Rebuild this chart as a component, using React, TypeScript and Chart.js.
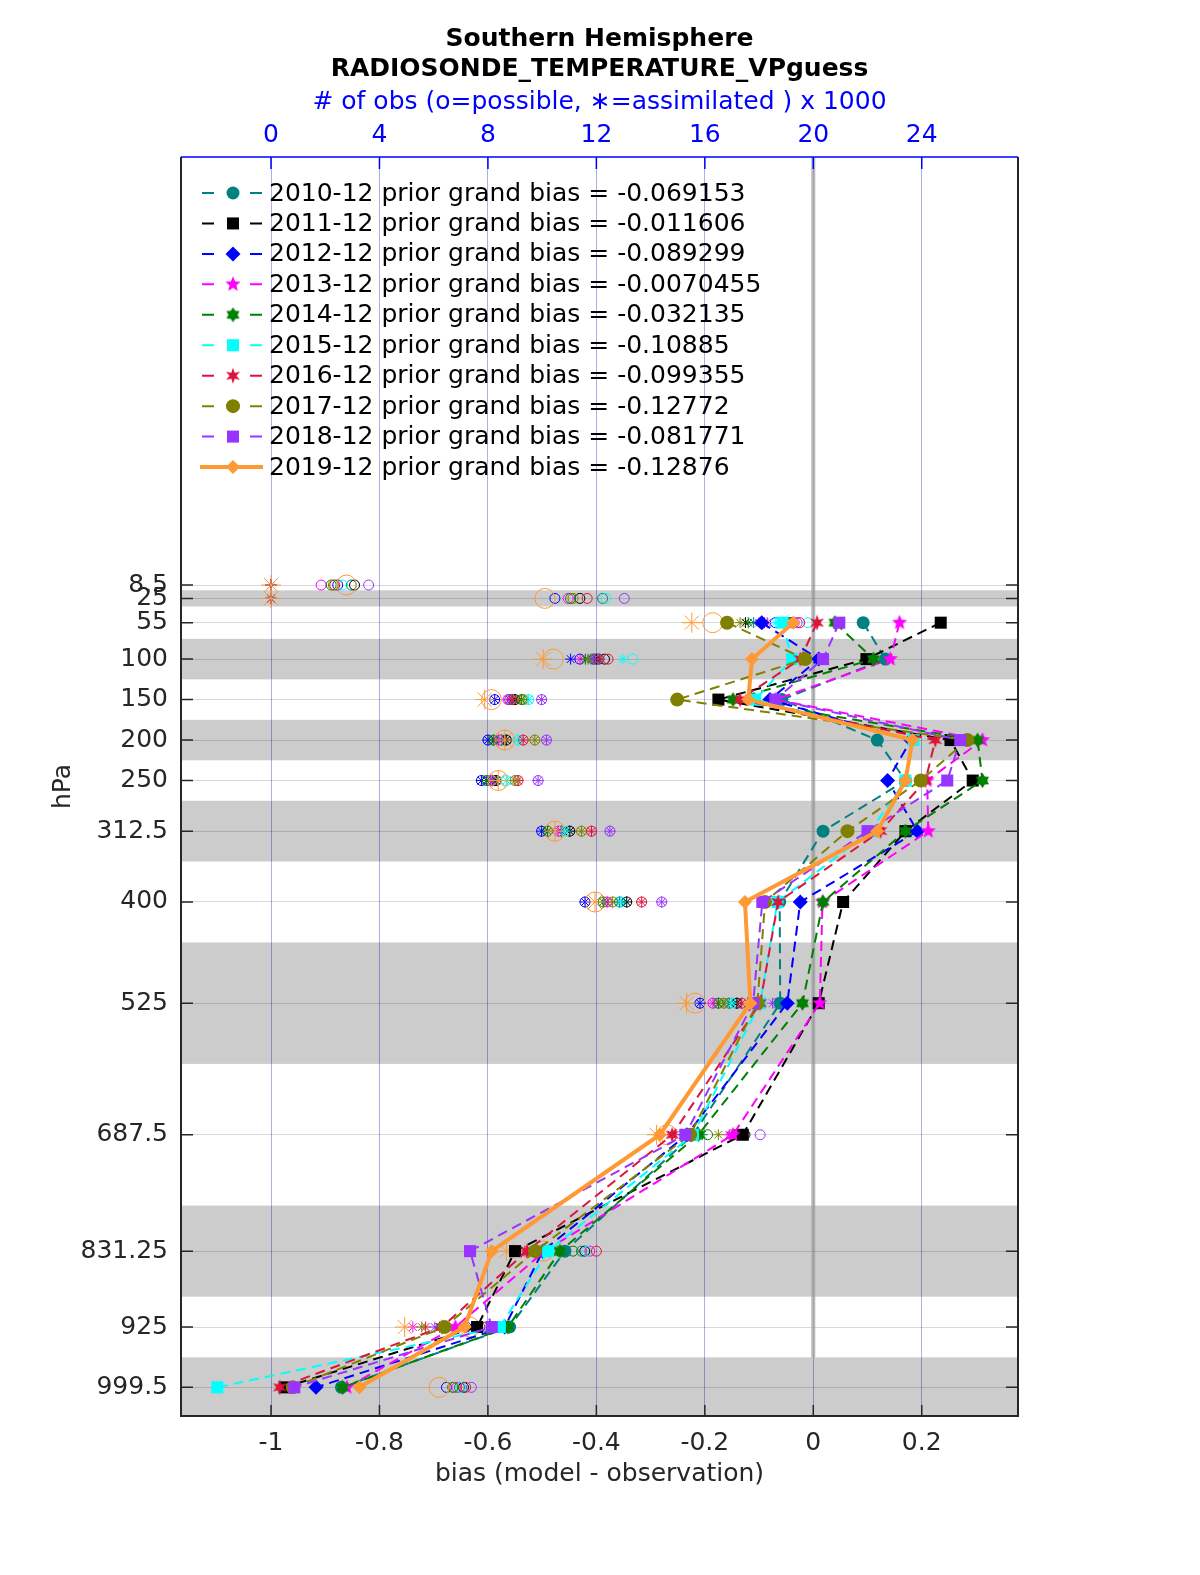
import React, { useEffect, useRef } from 'react';
import { Chart, registerables } from 'chart.js';

Chart.register(...registerables);

// ---------------- data ----------------
const LEVELS = [8.5, 25, 55, 100, 150, 200, 250, 312.5, 400, 525, 687.5, 831.25, 925, 999.5];
const BIAS_TICKS = [-1, -0.8, -0.6, -0.4, -0.2, 0, 0.2];
const OBS_TICKS = [0, 4, 8, 12, 16, 20, 24];
const BANDS = [[15, 35], [75, 125], [175, 225], [275, 350], [450, 600], [775, 887.5], [962.5, 1100]];

const TITLE_LINES = ['Southern Hemisphere', 'RADIOSONDE_TEMPERATURE_VPguess'];
const OBS_AXIS_TITLE = '# of obs (o=possible, \u2217=assimilated ) x 1000';
const BIAS_AXIS_TITLE = 'bias (model - observation)';
const LEVEL_AXIS_TITLE = 'hPa';

const SERIES_LABELS = [
  '2010-12 prior grand bias = -0.069153',
  '2011-12 prior grand bias = -0.011606',
  '2012-12 prior grand bias = -0.089299',
  '2013-12 prior grand bias = -0.0070455',
  '2014-12 prior grand bias = -0.032135',
  '2015-12 prior grand bias = -0.10885',
  '2016-12 prior grand bias = -0.099355',
  '2017-12 prior grand bias = -0.12772',
  '2018-12 prior grand bias = -0.081771',
  '2019-12 prior grand bias = -0.12876',
];

const BIAS_2010 = [null, null, 0.092, 0.133, -0.058, 0.118, 0.17, 0.018, -0.062, -0.061, -0.222, -0.458, -0.56, -0.87];
const BIAS_2011 = [null, null, 0.235, 0.098, -0.175, 0.253, 0.294, 0.17, 0.055, 0.01, -0.13, -0.55, -0.62, -0.975];
const BIAS_2012 = [null, null, -0.095, 0.01, -0.08, 0.18, 0.137, 0.192, -0.024, -0.048, -0.233, -0.499, -0.569, -0.917];
const BIAS_2013 = [null, null, 0.159, 0.142, -0.07, 0.312, 0.21, 0.212, 0.017, 0.012, -0.148, -0.495, -0.66, -0.86];
const BIAS_2014 = [null, null, 0.04, 0.111, -0.148, 0.303, 0.312, 0.17, 0.018, -0.02, -0.212, -0.467, -0.563, -0.868];
const BIAS_2015 = [null, null, -0.057, -0.039, -0.107, 0.185, 0.17, 0.105, -0.066, -0.098, -0.222, -0.489, -0.578, -1.099];
const BIAS_2016 = [null, null, 0.007, -0.024, -0.135, 0.225, 0.207, 0.124, -0.065, -0.098, -0.26, -0.528, -0.685, -0.984];
const BIAS_2017 = [null, null, -0.159, -0.015, -0.251, 0.284, 0.198, 0.063, -0.089, -0.103, -0.227, -0.513, -0.68, -0.96];
const BIAS_2018 = [null, null, 0.048, 0.018, -0.07, 0.271, 0.247, 0.1, -0.094, -0.111, -0.236, -0.633, -0.593, -0.957];
const BIAS_2019 = [null, null, -0.037, -0.113, -0.12, 0.183, 0.17, 0.118, -0.126, -0.116, -0.283, -0.593, -0.643, -0.837];

// observation counts (x 1000): possible / assimilated
const POSS_2010 = [2.96, 12.23, 19.1, 12.1, 8.8, 8.5, 8.2, 10.7, 12.85, 16.9, 15.7, 11.45, 7.95, 6.95];
const ASSIM_2010 = [0, 0, 17.8, 11.8, 8.8, 8.5, 8.2, 10.7, 12.85, 16.9, 15.4, 10.2, 6.3, null];
const POSS_2011 = [3.08, 11.39, 19.2, 12.3, 9.0, 8.68, 8.3, 11.02, 13.12, 17.18, 17.48, 11.57, 7.58, 7.1];
const ASSIM_2011 = [0, 0, 17.5, 12.0, 9.0, 8.68, 8.3, 11.02, 13.12, 17.18, 17.1, 8.99, 6.22, null];
const POSS_2012 = [2.46, 10.47, 18.6, 11.39, 8.25, 8.0, 7.76, 9.98, 11.58, 15.82, 15.4, 10.35, 7.2, 6.47];
const ASSIM_2012 = [0, 0, 16.8, 11.05, 8.25, 8.0, 7.76, 9.98, 11.58, 15.82, 15.2, 9.8, 6.4, null];
const POSS_2013 = [1.85, 10.96, 19.4, 11.9, 8.74, 8.4, 8.1, 10.6, 12.4, 16.3, 17.2, 11.76, 7.95, 6.85];
const ASSIM_2013 = [0, 0, 18.3, 11.4, 8.74, 8.4, 8.1, 10.6, 12.4, 16.3, 16.9, 9.9, 5.23, null];
const POSS_2014 = [2.22, 11.05, 19.0, 11.9, 9.24, 8.2, 7.95, 10.2, 12.25, 16.5, 16.1, 11.14, 8.74, 6.7];
const ASSIM_2014 = [0, 0, 17.6, 11.6, 9.24, 8.2, 7.95, 10.2, 12.25, 16.5, 15.9, 9.7, 6.5, null];
const POSS_2015 = [2.64, 12.35, 19.8, 13.34, 9.5, 9.11, 8.68, 10.85, 12.9, 17.0, 15.8, 11.64, 8.1, 7.0];
const ASSIM_2015 = [0, 0, 18.6, 12.98, 9.5, 9.11, 8.68, 10.85, 12.9, 17.0, 15.5, 10.1, 6.35, null];
const POSS_2016 = [2.35, 11.66, 19.5, 12.43, 8.9, 9.3, 9.11, 11.82, 13.67, 17.36, 17.2, 12.0, 7.7, 7.18];
const ASSIM_2016 = [0, 0, 18.2, 12.1, 8.9, 9.3, 9.11, 11.82, 13.67, 17.36, 14.78, 9.36, 5.7, null];
const POSS_2017 = [2.3, 11.14, 19.0, 12.0, 9.3, 9.73, 9.0, 11.45, 12.6, 16.7, 17.0, 10.6, 7.8, 6.75];
const ASSIM_2017 = [0, 0, 17.3, 11.7, 9.3, 9.73, 9.0, 11.45, 12.6, 16.7, 16.5, 9.6, 5.56, null];
const POSS_2018 = [3.6, 13.03, 19.3, 12.06, 9.98, 10.16, 9.85, 12.5, 14.41, 18.65, 18.04, 10.2, 8.38, 7.39];
const ASSIM_2018 = [0, 0, 18.0, 11.9, 9.98, 10.16, 9.85, 12.5, 14.41, 18.5, 15.27, 10.0, 6.04, null];
const POSS_2019 = [2.78, 10.1, 16.29, 10.41, 8.13, 8.62, 8.38, 10.47, 11.95, 15.64, 14.6, 10.04, 7.33, 6.2];
const ASSIM_2019 = [0, 0, 15.52, 10.04, 7.88, 8.62, 8.38, 10.47, 11.95, 15.33, 14.22, 8.68, 4.93, null];

const BIAS = [BIAS_2010, BIAS_2011, BIAS_2012, BIAS_2013, BIAS_2014, BIAS_2015, BIAS_2016, BIAS_2017, BIAS_2018, BIAS_2019];
const POSS = [POSS_2010, POSS_2011, POSS_2012, POSS_2013, POSS_2014, POSS_2015, POSS_2016, POSS_2017, POSS_2018, POSS_2019];
const ASSIM = [ASSIM_2010, ASSIM_2011, ASSIM_2012, ASSIM_2013, ASSIM_2014, ASSIM_2015, ASSIM_2016, ASSIM_2017, ASSIM_2018, ASSIM_2019];

// ---------------- axis ranges ----------------
const BIAS_MIN = -1.166;
const BIAS_MAX = 0.3775;
const OBS_MIN = (BIAS_MIN + 1) * 20;
const OBS_MAX = (BIAS_MAX + 1) * 20;
const P_TOP = -520.2;
const P_BOTTOM = 1034.9;
const ZERO_LINE_END = 962.5;

// ---------------- styles ----------------
const FONT = 'DejaVu Sans';
const FS = 25;
const STYLES = [
  { color: '#008080', marker: 'circle', r: 6.5 },
  { color: '#000000', marker: 'rect', r: 8.5 },
  { color: '#0000ff', marker: 'rectRot', r: 7.5 },
  { color: '#ff00ff', marker: 'pentagram', r: 8 },
  { color: '#008000', marker: 'hexagram', r: 7.5 },
  { color: '#00ffff', marker: 'rect', r: 8.5 },
  { color: '#dc143c', marker: 'spiky', r: 8 },
  { color: '#808000', marker: 'circle', r: 7 },
  { color: '#9933ff', marker: 'rect', r: 8.5 },
  { color: '#ff9933', marker: 'rectRot', r: 7, solid: true },
];

function makeStar(n: number, outer: number, innerRatio: number, color: string): HTMLCanvasElement {
  const size = Math.ceil(outer * 2 + 2);
  const c = document.createElement('canvas');
  c.width = size;
  c.height = size;
  const g = c.getContext('2d')!;
  g.fillStyle = color;
  g.beginPath();
  for (let k = 0; k < 2 * n; k++) {
    const rr = k % 2 === 0 ? outer : outer * innerRatio;
    const a = -Math.PI / 2 + (k * Math.PI) / n;
    const x = size / 2 + rr * Math.cos(a);
    const y = size / 2 + rr * Math.sin(a);
    if (k === 0) g.moveTo(x, y);
    else g.lineTo(x, y);
  }
  g.closePath();
  g.fill();
  return c;
}

function pointStyleFor(s: any): any {
  if (s.marker === 'pentagram') return makeStar(5, s.r, 0.45, s.color);
  if (s.marker === 'hexagram') return makeStar(6, s.r, 0.62, s.color);
  if (s.marker === 'spiky') return makeStar(6, s.r, 0.42, s.color);
  return s.marker;
}

function drawMarker(ctx: CanvasRenderingContext2D, s: any, ps: any, x: number, y: number) {
  ctx.save();
  ctx.fillStyle = s.color;
  if (typeof ps !== 'string') {
    ctx.drawImage(ps, x - ps.width / 2, y - ps.height / 2);
  } else if (ps === 'circle') {
    ctx.beginPath();
    ctx.arc(x, y, s.r, 0, Math.PI * 2);
    ctx.fill();
  } else if (ps === 'rect') {
    const h = s.r * Math.SQRT1_2;
    ctx.fillRect(x - h, y - h, 2 * h, 2 * h);
  } else if (ps === 'rectRot') {
    ctx.beginPath();
    ctx.moveTo(x, y - s.r);
    ctx.lineTo(x + s.r, y);
    ctx.lineTo(x, y + s.r);
    ctx.lineTo(x - s.r, y);
    ctx.closePath();
    ctx.fill();
  }
  ctx.restore();
}

const DASH = [10, 6];

const decorPlugin = {
  id: 'decor',
  beforeDraw(chart: any) {
    const { ctx, chartArea: a, scales } = chart;
    const y = scales.y;
    ctx.save();
    ctx.fillStyle = '#cccccc';
    BANDS.forEach(([p0, p1]) => {
      const y0 = Math.max(a.top, Math.min(a.bottom, y.getPixelForValue(p0)));
      const y1 = Math.max(a.top, Math.min(a.bottom, y.getPixelForValue(p1)));
      ctx.fillRect(a.left, y0, a.right - a.left, y1 - y0);
    });
    ctx.restore();
  },
  beforeDatasetsDraw(chart: any) {
    const { ctx, chartArea: a, scales } = chart;
    const x0 = scales.x.getPixelForValue(0);
    ctx.save();
    ctx.strokeStyle = 'rgba(160,160,160,0.75)';
    ctx.lineWidth = 4;
    ctx.beginPath();
    ctx.moveTo(x0, a.top);
    ctx.lineTo(x0, scales.y.getPixelForValue(ZERO_LINE_END));
    ctx.stroke();
    ctx.restore();
  },
  afterDraw(chart: any) {
    const { ctx, chartArea: a, scales } = chart;
    const cx = (a.left + a.right) / 2;
    ctx.save();
    // box
    ctx.lineWidth = 2;
    ctx.strokeStyle = '#262626';
    ctx.beginPath();
    ctx.moveTo(a.left, a.top);
    ctx.lineTo(a.left, a.bottom);
    ctx.lineTo(a.right, a.bottom);
    ctx.lineTo(a.right, a.top);
    ctx.stroke();
    ctx.strokeStyle = '#0000ff';
    ctx.lineWidth = 1.5;
    ctx.beginPath();
    ctx.moveTo(a.left, a.top);
    ctx.lineTo(a.right, a.top);
    ctx.stroke();
    // tick marks
    ctx.lineWidth = 1.5;
    ctx.strokeStyle = '#262626';
    ctx.beginPath();
    LEVELS.forEach((p) => {
      const py = scales.y.getPixelForValue(p);
      ctx.moveTo(a.left, py);
      ctx.lineTo(a.left + 12, py);
      ctx.moveTo(a.right, py);
      ctx.lineTo(a.right - 12, py);
    });
    BIAS_TICKS.forEach((b) => {
      const px = scales.x.getPixelForValue(b);
      ctx.moveTo(px, a.bottom);
      ctx.lineTo(px, a.bottom - 11);
    });
    ctx.stroke();
    ctx.strokeStyle = '#0000ff';
    ctx.beginPath();
    OBS_TICKS.forEach((o) => {
      const px = scales.x2.getPixelForValue(o);
      ctx.moveTo(px, a.top);
      ctx.lineTo(px, a.top + 12);
    });
    ctx.stroke();

    // titles
    ctx.textAlign = 'center';
    ctx.textBaseline = 'middle';
    ctx.fillStyle = '#000000';
    ctx.font = `bold ${FS}px "${FONT}"`;
    ctx.fillText(TITLE_LINES[0], cx, 39);
    ctx.fillText(TITLE_LINES[1], cx, 69);
    ctx.fillStyle = '#0000ff';
    ctx.font = `${FS}px "${FONT}"`;
    ctx.fillText(OBS_AXIS_TITLE, cx, 102);
    ctx.fillStyle = '#262626';
    ctx.fillText(BIAS_AXIS_TITLE, cx, 1474);
    ctx.save();
    ctx.translate(63, (a.top + a.bottom) / 2);
    ctx.rotate(-Math.PI / 2);
    ctx.fillText(LEVEL_AXIS_TITLE, 0, 0);
    ctx.restore();

    // legend
    ctx.textAlign = 'left';
    ctx.font = `${FS}px "${FONT}"`;
    SERIES_LABELS.forEach((label, i) => {
      const s = STYLES[i];
      const ly = 193 + i * 30.45;
      ctx.strokeStyle = s.color;
      if (s.solid) {
        ctx.lineWidth = 4;
        ctx.beginPath();
        ctx.moveTo(200, ly);
        ctx.lineTo(263, ly);
        ctx.stroke();
      } else {
        ctx.lineWidth = 2;
        ctx.beginPath();
        ctx.moveTo(202, ly);
        ctx.lineTo(214, ly);
        ctx.moveTo(250, ly);
        ctx.lineTo(262, ly);
        ctx.stroke();
      }
      const ds = chart.data.datasets[i];
      drawMarker(ctx, s, ds.pointStyle, 233, ly);
      ctx.fillStyle = '#000000';
      ctx.fillText(label, 269, ly + 1);
    });
    ctx.restore();
  },
};

function buildDatasets() {
  const sets: any[] = [];
  STYLES.forEach((s, i) => {
    const ps = pointStyleFor(s);
    sets.push({
      label: SERIES_LABELS[i],
      data: LEVELS.map((p, k) => ({ x: BIAS[i][k], y: p })).filter((d) => d.x !== null),
      xAxisID: 'x',
      yAxisID: 'y',
      showLine: true,
      borderColor: s.color,
      backgroundColor: s.color,
      borderWidth: s.solid ? 4 : 2,
      borderDash: s.solid ? [] : DASH,
      pointStyle: ps,
      pointRadius: s.r,
      pointBorderWidth: 0,
      pointBackgroundColor: s.color,
      pointBorderColor: s.color,
      tension: 0,
      order: 100 - i,
    });
  });
  STYLES.forEach((s, i) => {
    const big = i === STYLES.length - 1;
    sets.push({
      label: 'possible ' + i,
      data: LEVELS.map((p, k) => ({ x: POSS[i][k], y: p })).filter((d) => d.x !== null),
      xAxisID: 'x2',
      yAxisID: 'y',
      showLine: false,
      pointStyle: 'circle',
      pointRadius: big ? 10 : 5,
      pointBorderWidth: 1,
      pointBorderColor: s.color,
      pointBackgroundColor: 'rgba(0,0,0,0)',
      borderColor: s.color,
      backgroundColor: 'rgba(0,0,0,0)',
      order: 300 - i,
    });
    sets.push({
      label: 'assimilated ' + i,
      data: LEVELS.map((p, k) => ({ x: ASSIM[i][k], y: p })).filter((d) => d.x !== null),
      xAxisID: 'x2',
      yAxisID: 'y',
      showLine: false,
      pointStyle: 'star',
      pointRadius: big ? 10 : 5.5,
      pointBorderWidth: 1,
      pointBorderColor: s.color,
      pointBackgroundColor: s.color,
      borderColor: s.color,
      backgroundColor: s.color,
      order: 200 - i,
    });
  });
  return sets;
}

export default function App() {
  const ref = useRef<HTMLCanvasElement | null>(null);
  useEffect(() => {
    if (!ref.current) return;
    Chart.defaults.font.family = FONT;
    const tickFont = { family: FONT, size: FS };
    const chart = new Chart(ref.current, {
      type: 'scatter',
      data: { datasets: buildDatasets() },
      options: {
        responsive: false,
        animation: false,
        devicePixelRatio: 1,
        layout: { padding: { left: 0, right: 182, top: 0, bottom: 0 } },
        plugins: { legend: { display: false }, title: { display: false }, tooltip: { enabled: false } },
        scales: {
          x: {
            type: 'linear',
            position: 'bottom',
            min: BIAS_MIN,
            max: BIAS_MAX,
            afterFit: (s: any) => { s.height = 159; },
            afterBuildTicks: (s: any) => { s.ticks = BIAS_TICKS.map((v) => ({ value: v })); },
            ticks: {
              autoSkip: false,
              maxRotation: 0,
              padding: 12,
              color: '#262626',
              font: tickFont,
              callback: (v: any) => String(Math.round(Number(v) * 10) / 10),
            },
            grid: { color: 'rgba(0,0,0,0.12)', drawTicks: false },
            border: { display: false },
          },
          x2: {
            type: 'linear',
            position: 'top',
            min: OBS_MIN,
            max: OBS_MAX,
            afterFit: (s: any) => { s.height = 157; },
            afterBuildTicks: (s: any) => { s.ticks = OBS_TICKS.map((v) => ({ value: v })); },
            ticks: {
              autoSkip: false,
              maxRotation: 0,
              padding: 7,
              color: '#0000ff',
              font: tickFont,
              callback: (v: any) => String(Math.round(Number(v))),
            },
            grid: { color: 'rgba(0,0,255,0.22)', drawTicks: false },
            border: { display: false },
          },
          y: {
            type: 'linear',
            position: 'left',
            reverse: true,
            min: P_TOP,
            max: P_BOTTOM,
            afterFit: (s: any) => { s.width = 181; },
            afterBuildTicks: (s: any) => { s.ticks = LEVELS.map((v) => ({ value: v })); },
            ticks: {
              autoSkip: false,
              padding: 13,
              color: '#262626',
              font: tickFont,
              callback: (v: any) => String(v),
            },
            grid: { color: 'rgba(0,0,0,0.15)', drawTicks: false },
            border: { display: false },
          },
        },
      },
      plugins: [decorPlugin],
    } as any);
    return () => chart.destroy();
  }, []);
  return (
    <div style={{ position: 'absolute', left: 0, top: 0, width: 1200, height: 1575, background: '#ffffff' }}>
      <canvas ref={ref} width={1200} height={1575} style={{ width: 1200, height: 1575, display: 'block' }} />
    </div>
  );
}
